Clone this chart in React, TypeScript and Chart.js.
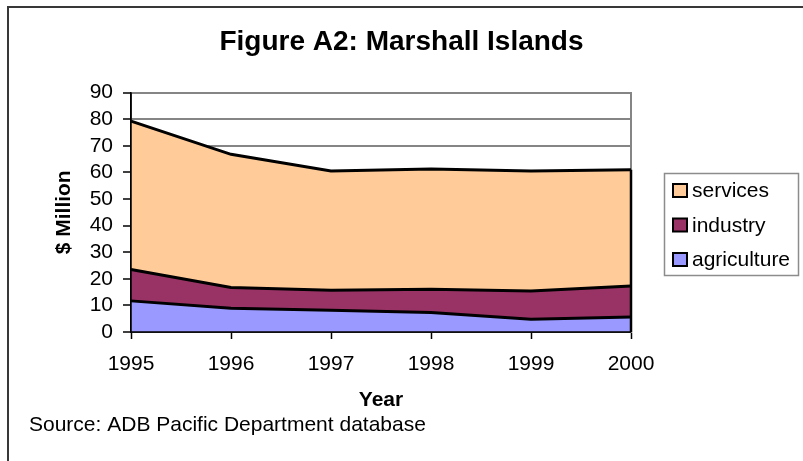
import { useEffect, useRef } from 'react';
import { Chart, registerables } from 'chart.js';

Chart.register(...registerables);

const years = ['1995', '1996', '1997', '1998', '1999', '2000'];
const agriculture = [11.7, 8.9, 8.2, 7.3, 4.8, 5.6];
const industry = [11.8, 7.8, 7.5, 8.8, 10.6, 11.7];
const services = [55.8, 50.1, 44.8, 45.2, 45.1, 43.7];
const yMin = 0;
const yMax = 90;
const yStep = 10;

const titleText = 'Figure A2: Marshall Islands';
const yTitle = '$ Million';
const xTitle = 'Year';
const sourceText = 'Source: ADB Pacific Department database';

const FONT = "'Liberation Sans', Arial, Helvetica, sans-serif";

const decorPlugin = {
  id: 'decor',
  beforeDraw(chart: any) {
    const ctx = chart.ctx;
    ctx.save();
    ctx.fillStyle = '#ffffff';
    ctx.fillRect(0, 0, chart.width, chart.height);
    ctx.fillStyle = '#383838';
    ctx.fillRect(7, 6, chart.width, 2);
    ctx.fillRect(7, 6, 2, chart.height);
    ctx.restore();
  },
  afterDatasetsDraw(chart: any) {
    const ctx = chart.ctx;
    const a = chart.chartArea;
    ctx.save();
    ctx.strokeStyle = '#000000';
    const metas = chart.getSortedVisibleDatasetMetas();
    const topMeta = metas[metas.length - 1];
    const last = topMeta.data[topMeta.data.length - 1];
    ctx.lineWidth = 2.5;
    ctx.beginPath();
    ctx.moveTo(last.x, last.y);
    ctx.lineTo(last.x, a.bottom);
    ctx.stroke();
    ctx.lineWidth = 1.5;
    ctx.beginPath();
    ctx.moveTo(a.left, a.top);
    ctx.lineTo(a.left, a.bottom);
    ctx.lineTo(a.right, a.bottom);
    ctx.stroke();
    ctx.restore();
  },
  afterDraw(chart: any) {
    const ctx = chart.ctx;
    ctx.save();
    ctx.strokeStyle = '#8c8c8c';
    ctx.lineWidth = 1.5;
    ctx.strokeRect(664.5, 173.5, 134, 102);
    const ds = chart.data.datasets.slice().reverse();
    ctx.font = `21px ${FONT}`;
    ctx.textBaseline = 'middle';
    ctx.textAlign = 'left';
    ds.forEach((d: any, i: number) => {
      const cy = 190.5 + i * 34.5;
      ctx.fillStyle = d.backgroundColor;
      ctx.fillRect(673, cy - 6.5, 14, 13);
      ctx.strokeStyle = '#000000';
      ctx.lineWidth = 2;
      ctx.strokeRect(673, cy - 6.5, 14, 13);
      ctx.fillStyle = '#000000';
      ctx.fillText(d.label, 692, cy + 1);
    });
    ctx.fillStyle = '#000000';
    ctx.fillText(sourceText, 29, 425);
    ctx.restore();
  },
};

export default function App() {
  const ref = useRef<HTMLCanvasElement | null>(null);

  useEffect(() => {
    if (!ref.current) return;
    const chart = new Chart(ref.current, {
      type: 'line',
      data: {
        labels: years,
        datasets: [
          {
            label: 'agriculture',
            data: agriculture,
            backgroundColor: '#9999ff',
            borderColor: '#000000',
            borderWidth: 3,
            pointRadius: 0,
            fill: 'origin',
            tension: 0,
          },
          {
            label: 'industry',
            data: industry,
            backgroundColor: '#993366',
            borderColor: '#000000',
            borderWidth: 3,
            pointRadius: 0,
            fill: '-1',
            tension: 0,
          },
          {
            label: 'services',
            data: services,
            backgroundColor: '#ffcc99',
            borderColor: '#000000',
            borderWidth: 3,
            pointRadius: 0,
            fill: '-1',
            tension: 0,
          },
        ],
      },
      options: {
        responsive: false,
        animation: false,
        layout: { padding: 0 },
        plugins: {
          legend: { display: false },
          tooltip: { enabled: false },
          title: {
            display: true,
            text: titleText,
            color: '#000000',
            font: { family: FONT, size: 28, weight: 'bold', lineHeight: 1.2 },
            padding: { top: 25, bottom: 34 },
          },
        },
        scales: {
          x: {
            type: 'category',
            offset: false,
            grid: {
              drawOnChartArea: false,
              drawTicks: true,
              tickLength: 7,
              tickColor: '#000000',
              tickWidth: 1.5,
            },
            border: { display: true, color: '#000000', width: 1.5 },
            ticks: {
              color: '#000000',
              font: { family: FONT, size: 21 },
              padding: 13,
              maxRotation: 0,
              autoSkip: false,
            },
            title: {
              display: true,
              text: xTitle,
              color: '#000000',
              font: { family: FONT, size: 21, weight: 'bold' },
              padding: { top: 0, bottom: 48 },
            },
            afterFit: (s: any) => {
              s.height = 129;
            },
          },
          y: {
            stacked: true,
            min: yMin,
            max: yMax,
            ticks: {
              stepSize: yStep,
              autoSkip: false,
              maxTicksLimit: 20,
              color: '#000000',
              font: { family: FONT, size: 21, lineHeight: 1 },
              padding: 10,
            },
            grid: {
              color: '#858585',
              lineWidth: 2,
              tickColor: '#000000',
              tickLength: 8,
              tickWidth: 1.5,
            },
            border: { display: true, color: '#000000', width: 1.5 },
            title: {
              display: true,
              text: yTitle,
              color: '#000000',
              font: { family: FONT, size: 21, weight: 'bold' },
              padding: { top: 52, bottom: 0 },
            },
            afterFit: (s: any) => {
              s.width = 131;
            },
          },
          yR: {
            type: 'linear',
            position: 'right',
            display: true,
            grid: { display: false, drawTicks: false },
            ticks: { display: false },
            border: { display: true, color: '#858585', width: 2 },
            afterFit: (s: any) => {
              s.width = 172;
            },
          },
        },
      },
      plugins: [decorPlugin],
    });
    return () => chart.destroy();
  }, []);

  return (
    <canvas
      ref={ref}
      width={803}
      height={461}
      style={{ position: 'fixed', left: 0, top: 0, display: 'block' }}
    />
  );
}
